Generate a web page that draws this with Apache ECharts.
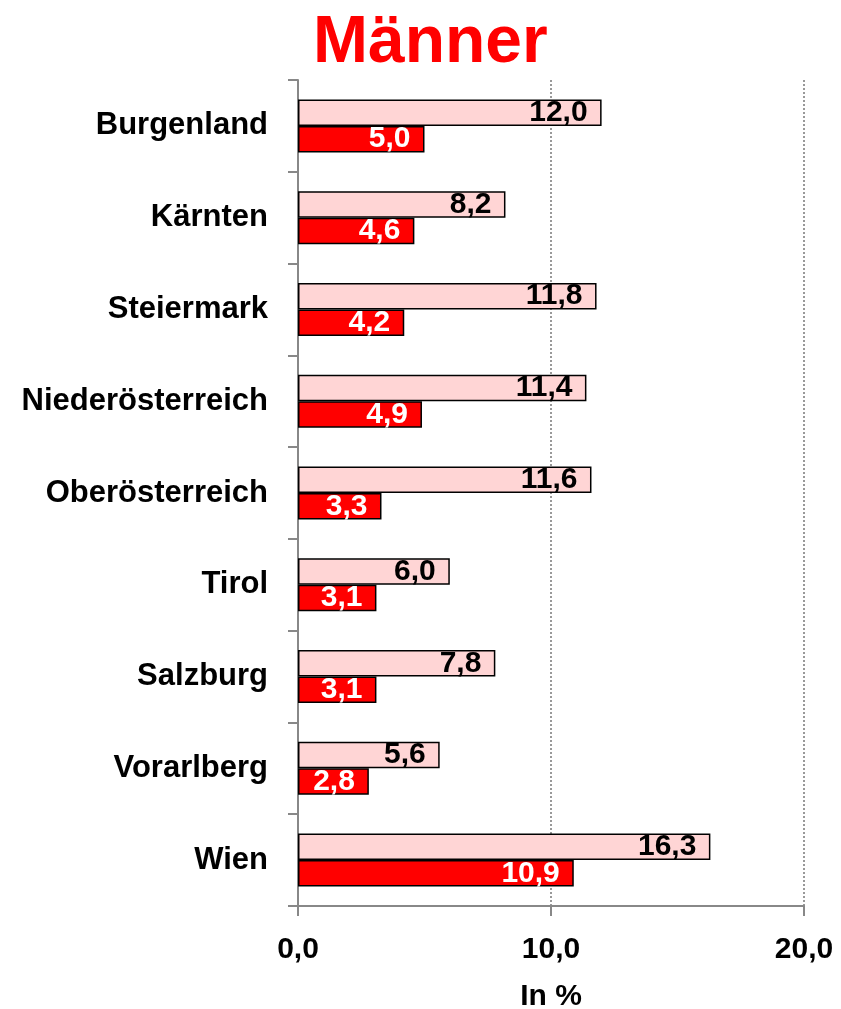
<!DOCTYPE html>
<html>
<head>
<meta charset="utf-8">
<script src="https://cdn.jsdelivr.net/npm/echarts@6/dist/echarts.min.js"></script>
<style>
  html, body { margin: 0; padding: 0; background: #fff; }
  #chart { width: 841px; height: 1009px; }
</style>
</head>
<body>
<div id="chart"></div>
<script>
// Bundesländer, von oben nach unten
const regions = ['Burgenland', 'Kärnten', 'Steiermark', 'Niederösterreich', 'Oberösterreich', 'Tirol', 'Salzburg', 'Vorarlberg', 'Wien'];
// helle Balken (oben)
const lightValues = [12.0, 8.2, 11.8, 11.4, 11.6, 6.0, 7.8, 5.6, 16.3];
// rote Balken (unten)
const redValues = [5.0, 4.6, 4.2, 4.9, 3.3, 3.1, 3.1, 2.8, 10.9];
const xTicks = [0, 10, 20];

const FONT = '"Liberation Sans", Arial, sans-serif';
const fmt = v => Number(v).toFixed(1).replace('.', ',');

const chart = echarts.init(document.getElementById('chart'));

const option = {
  animation: false,
  backgroundColor: '#fff',
  title: {
    text: 'Männer',
    left: 308,
    top: 6,
    textStyle: {
      color: '#ff0000',
      fontFamily: FONT,
      fontWeight: 'bold',
      fontSize: 66,
    },
  },
  grid: {
    left: 298,
    right: 37,
    top: 80,
    bottom: 103,
    containLabel: false,
    outerBoundsMode: 'none',
  },
  xAxis: {
    type: 'value',
    min: xTicks[0],
    max: xTicks[xTicks.length - 1],
    interval: 10,
    name: 'In %',
    nameLocation: 'middle',
    nameGap: 76,
    nameTextStyle: {
      color: '#000',
      fontFamily: FONT,
      fontWeight: 'bold',
      fontSize: 30,
    },
    axisLine: {
      show: true,
      lineStyle: { color: '#888', width: 2 },
    },
    axisTick: {
      show: true,
      length: 10,
      lineStyle: { color: '#888', width: 2 },
    },
    axisLabel: {
      color: '#000',
      fontFamily: FONT,
      fontWeight: 'bold',
      fontSize: 30,
      margin: 29,
      formatter: fmt,
    },
    splitLine: {
      show: true,
      lineStyle: { color: '#999', type: 'dotted', width: 2 },
    },
  },
  yAxis: {
    type: 'category',
    inverse: true,
    data: regions,
    axisLine: {
      show: true,
      lineStyle: { color: '#888', width: 2 },
    },
    axisTick: {
      show: true,
      length: 10,
      lineStyle: { color: '#888', width: 2 },
    },
    axisLabel: {
      color: '#000',
      fontFamily: FONT,
      fontWeight: 'bold',
      fontSize: 31,
      margin: 30,
      padding: [9, 0, 0, 0],
    },
  },
  series: [
    {
      name: 'hell',
      type: 'bar',
      data: lightValues,
      barWidth: 26.5,
      barGap: '0%',
      itemStyle: {
        color: '#ffd5d5',
        borderColor: '#000',
        borderWidth: 1.5,
      },
      label: {
        show: true,
        position: 'insideRight',
        distance: 14,
        color: '#000',
        fontFamily: FONT,
        fontWeight: 'bold',
        fontSize: 30,
        padding: [6, 0, 0, 0],
        formatter: p => fmt(p.value),
      },
    },
    {
      name: 'rot',
      type: 'bar',
      data: redValues,
      barWidth: 26.5,
      barGap: '0%',
      itemStyle: {
        color: '#ff0000',
        borderColor: '#000',
        borderWidth: 1.5,
      },
      label: {
        show: true,
        position: 'insideRight',
        distance: 14,
        color: '#fff',
        fontFamily: FONT,
        fontWeight: 'bold',
        fontSize: 30,
        padding: [6, 0, 0, 0],
        formatter: p => fmt(p.value),
      },
    },
  ],
};

chart.setOption(option);
</script>
</body>
</html>
